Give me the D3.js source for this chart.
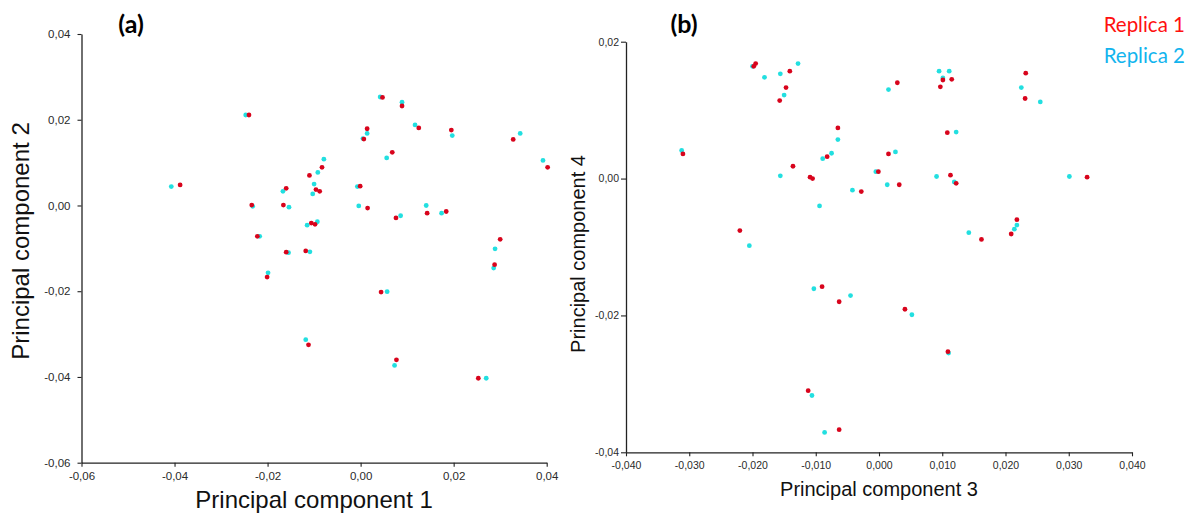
<!DOCTYPE html>
<html>
<head>
<meta charset="utf-8">
<script src="https://cdn.jsdelivr.net/npm/d3@7"></script>
<style>
  body { margin: 0; background: #fff; }
  .tick text { fill: #2a2a2a; font-family: "Liberation Sans", Arial, sans-serif; }
  .axis path, .axis line { stroke: #222; }
</style>
</head>
<body>
<svg id="chart" width="1190" height="514"></svg>
<script>
// Panel (a): scores on principal components 1 and 2
const pc1Rep1 = [-0.0388, -0.0240, 0.0047, 0.0089, 0.0125, 0.0014, 0.0007, 0.0195, 0.0328, 0.0402, 0.0068, -0.0083, -0.0110, -0.0096, -0.0088, -0.0160, -0.0001, -0.0166, -0.0234, 0.0015, 0.0143, 0.0076, 0.0184, -0.0106, -0.0098, -0.0222, -0.0160, -0.0118, -0.0201, 0.0300, 0.0288, 0.0044, -0.0112, 0.0077, 0.0253];
const pc2Rep1 = [0.0048, 0.0211, 0.0252, 0.0232, 0.0181, 0.0179, 0.0155, 0.0176, 0.0154, 0.0089, 0.0124, 0.0089, 0.0070, 0.0037, 0.0033, 0.0040, 0.0045, 0.0001, 0.0001, -0.0006, -0.0018, -0.0029, -0.0014, -0.0041, -0.0044, -0.0072, -0.0109, -0.0106, -0.0167, -0.0079, -0.0138, -0.0202, -0.0325, -0.0360, -0.0403];
const pc1Rep2 = [-0.0407, -0.0247, 0.0042, 0.0089, 0.0117, 0.0014, 0.0005, 0.0197, 0.0343, 0.0392, 0.0056, -0.0079, -0.0092, -0.0100, -0.0103, -0.0167, -0.0007, -0.0154, -0.0232, -0.0004, 0.0141, 0.0086, 0.0174, -0.0093, -0.0115, -0.0217, -0.0155, -0.0109, -0.0199, 0.0289, 0.0286, 0.0057, -0.0118, 0.0073, 0.0270];
const pc2Rep2 = [0.0044, 0.0211, 0.0253, 0.0241, 0.0188, 0.0168, 0.0156, 0.0163, 0.0168, 0.0105, 0.0111, 0.0108, 0.0077, 0.0050, 0.0027, 0.0033, 0.0044, -0.0004, -0.0002, -0.0001, 0.0000, -0.0024, -0.0018, -0.0038, -0.0046, -0.0072, -0.0110, -0.0108, -0.0157, -0.0101, -0.0146, -0.0201, -0.0313, -0.0373, -0.0403];

// Panel (b): scores on principal components 3 and 4
const pc3Rep1 = [-0.0195, -0.0198, -0.0141, -0.0147, -0.0157, -0.0310, -0.0065, -0.0082, -0.0136, -0.0109, -0.0105, -0.0028, -0.0220, -0.0001, 0.0029, 0.0015, 0.0032, -0.0090, -0.0063, -0.0112, -0.0063, 0.0101, 0.0115, 0.0097, 0.0232, 0.0231, 0.0108, 0.0113, 0.0122, 0.0329, 0.0218, 0.0209, 0.0162, 0.0041, 0.0109];
const pc4Rep1 = [0.0168, 0.0164, 0.0157, 0.0133, 0.0114, 0.0036, 0.0074, 0.0032, 0.0018, 0.0002, 0.0000, -0.0019, -0.0076, 0.0010, 0.0140, 0.0036, -0.0009, -0.0158, -0.0180, -0.0310, -0.0367, 0.0144, 0.0145, 0.0134, 0.0154, 0.0117, 0.0067, 0.0005, -0.0007, 0.0002, -0.0060, -0.0081, -0.0089, -0.0191, -0.0253];
const pc3Rep2 = [-0.0200, -0.0181, -0.0156, -0.0128, -0.0150, -0.0312, -0.0065, -0.0089, -0.0075, -0.0156, -0.0042, -0.0094, -0.0205, -0.0005, 0.0015, 0.0026, 0.0013, -0.0103, -0.0045, -0.0106, -0.0086, 0.0095, 0.0111, 0.0101, 0.0225, 0.0255, 0.0122, 0.0091, 0.0119, 0.0301, 0.0218, 0.0214, 0.0142, 0.0052, 0.0110];
const pc4Rep2 = [0.0164, 0.0148, 0.0153, 0.0168, 0.0122, 0.0041, 0.0057, 0.0029, 0.0037, 0.0004, -0.0017, -0.0040, -0.0098, 0.0010, 0.0130, 0.0039, -0.0009, -0.0161, -0.0171, -0.0317, -0.0371, 0.0157, 0.0157, 0.0147, 0.0133, 0.0112, 0.0068, 0.0003, -0.0005, 0.0003, -0.0068, -0.0074, -0.0079, -0.0199, -0.0255];

// Tick values
const ticksA = [-0.06, -0.04, -0.02, 0.00, 0.02, 0.04];
const ticksBx = [-0.04, -0.03, -0.02, -0.01, 0.00, 0.01, 0.02, 0.03, 0.04];
const ticksBy = [-0.04, -0.02, 0.00, 0.02];

const seriesNames = ["Replica 1", "Replica 2"];
const seriesColors = ["#d8041c", "#22dfe0"];
const legendColors = ["#ff1010", "#12b4ee"];

// Decimal comma, plain hyphen for negatives
const locale = d3.formatLocale({decimal: ",", thousands: ".", grouping: [3], currency: ["", ""], minus: "-"});
const fmt2 = locale.format(".2f");
const fmt3 = locale.format(".3f");

const svg = d3.select("#chart");

function panel(opts) {
  const x = d3.scaleLinear().domain(opts.xDomain).range([opts.left, opts.right]);
  const y = d3.scaleLinear().domain(opts.yDomain).range([opts.bottom, opts.top]);
  const g = svg.append("g");

  const xAxis = g.append("g").attr("class", "axis")
    .attr("transform", `translate(0,${opts.bottom})`)
    .call(d3.axisBottom(x).tickValues(opts.xTicks).tickFormat(opts.xFmt).tickSize(4).tickSizeOuter(0).tickPadding(5));
  const yAxis = g.append("g").attr("class", "axis")
    .attr("transform", `translate(${opts.left},0)`)
    .call(d3.axisLeft(y).tickValues(opts.yTicks).tickFormat(opts.yFmt).tickSize(opts.yTickSize).tickSizeOuter(0).tickPadding(opts.yPad));
  [xAxis, yAxis].forEach(a => {
    a.select(".domain").attr("stroke-width", 1.3);
    a.selectAll(".tick line").attr("stroke-width", 1.1);
    a.selectAll(".tick text").style("font-size", opts.tickFont + "px");
  });

  // axis titles
  g.append("text")
    .attr("x", (opts.left + opts.right) / 2)
    .attr("y", opts.xTitleY)
    .attr("text-anchor", "middle")
    .style("font-family", "'Liberation Sans', Arial, sans-serif")
    .style("font-size", opts.titleFont + "px")
    .attr("fill", "#111")
    .text(opts.xTitle);
  g.append("text")
    .attr("transform", `translate(${opts.yTitleX},${opts.yTitleCY}) rotate(-90)`)
    .attr("text-anchor", "middle")
    .style("font-family", "'Liberation Sans', Arial, sans-serif")
    .style("font-size", opts.titleFont + "px")
    .attr("fill", "#111")
    .text(opts.yTitle);

  // panel letter
  g.append("text")
    .attr("x", opts.letterX)
    .attr("y", 33)
    .attr("text-anchor", "middle")
    .style("font-family", "Lato, 'Open Sans', sans-serif")
    .style("font-weight", "bold")
    .style("font-size", "25px")
    .attr("fill", "#000")
    .text(opts.letter);

  // points: replica 2 underneath, replica 1 on top
  const sets = [
    {xs: opts.xs[1], ys: opts.ys[1], color: seriesColors[1]},
    {xs: opts.xs[0], ys: opts.ys[0], color: seriesColors[0]}
  ];
  sets.forEach(s => {
    g.append("g").selectAll("circle")
      .data(d3.zip(s.xs, s.ys))
      .join("circle")
      .attr("cx", d => x(d[0]))
      .attr("cy", d => y(d[1]))
      .attr("r", 2.4)
      .attr("fill", s.color);
  });
}

panel({
  left: 81.5, right: 546.7, top: 34, bottom: 462.7,
  xDomain: [-0.06, 0.04], yDomain: [-0.06, 0.04],
  xTicks: ticksA, yTicks: ticksA, xFmt: fmt2, yFmt: fmt2,
  tickFont: 11.5, yTickSize: 4, yPad: 7,
  xs: [pc1Rep1, pc1Rep2], ys: [pc2Rep1, pc2Rep2],
  xTitle: "Principal component 1", yTitle: "Principal component 2",
  titleFont: 24, xTitleY: 508, yTitleX: 29, yTitleCY: 241,
  letter: "(a)", letterX: 131
});

panel({
  left: 626, right: 1132, top: 41.7, bottom: 452.3,
  xDomain: [-0.04, 0.04], yDomain: [-0.04, 0.02],
  xTicks: ticksBx, yTicks: ticksBy, xFmt: fmt3, yFmt: fmt2,
  tickFont: 10.5, yTickSize: 5, yPad: 2,
  xs: [pc3Rep1, pc3Rep2], ys: [pc4Rep1, pc4Rep2],
  xTitle: "Principal component 3", yTitle: "Principal component 4",
  titleFont: 20, xTitleY: 496, yTitleX: 585, yTitleCY: 254,
  letter: "(b)", letterX: 684
});

// legend
svg.append("g").selectAll("text")
  .data(seriesNames)
  .join("text")
  .attr("x", 1185)
  .attr("y", (d, i) => 32 + i * 31)
  .attr("text-anchor", "end")
  .style("font-family", "Lato, 'Open Sans', sans-serif")
  .style("font-size", "20.5px")
  .attr("fill", (d, i) => legendColors[i])
  .text(d => d);
</script>
</body>
</html>
